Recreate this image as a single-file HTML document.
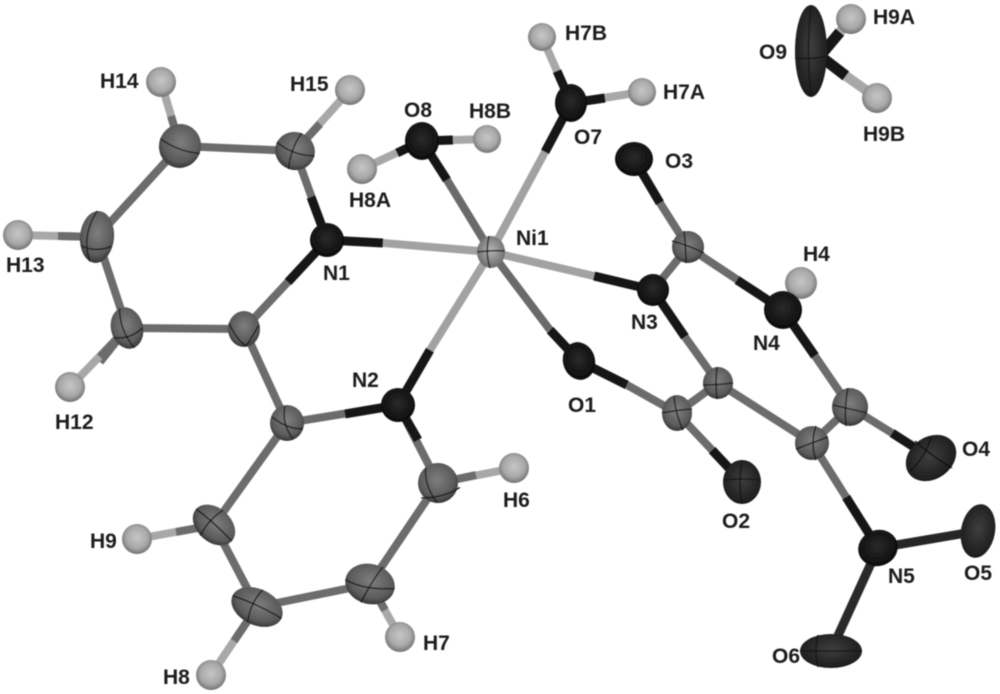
<!DOCTYPE html>
<html><head><meta charset="utf-8"><style>
html,body{margin:0;padding:0;background:#fff;width:1000px;height:694px;overflow:hidden}
svg{display:block}
text{font-family:"Liberation Sans",sans-serif;font-weight:bold;font-size:21px;fill:#1e1e1e}
.d{stroke:#141414;stroke-width:9}
.g{stroke:#6c6c6c;stroke-width:8}
.m{stroke:#6a6a6a;stroke-width:8}
.l{stroke:#a2a2a2;stroke-width:8}
.h{stroke:#a8a8a8;stroke-width:8}
.x path{stroke:#151515;stroke-width:1.3;fill:none}
</style></head><body>
<svg width="1000" height="694" viewBox="0 0 1000 694" xmlns="http://www.w3.org/2000/svg">
<defs>
<radialGradient id="H" cx="50%" cy="45%" r="55%"><stop offset="0" stop-color="#c6c6c6"/><stop offset=".65" stop-color="#a8a8a8"/><stop offset="1" stop-color="#727272"/></radialGradient>
<radialGradient id="C" cx="50%" cy="42%" r="58%"><stop offset="0" stop-color="#7e7e7e"/><stop offset=".75" stop-color="#5a5a5a"/><stop offset="1" stop-color="#363636"/></radialGradient>
<radialGradient id="K" cx="50%" cy="45%" r="55%"><stop offset="0" stop-color="#2a2a2a"/><stop offset="1" stop-color="#0c0c0c"/></radialGradient>
<radialGradient id="O" cx="50%" cy="45%" r="55%"><stop offset="0" stop-color="#3e3e3e"/><stop offset="1" stop-color="#1c1c1c"/></radialGradient>
<radialGradient id="N" cx="50%" cy="45%" r="55%"><stop offset="0" stop-color="#b4b4b4"/><stop offset="1" stop-color="#6c6c6c"/></radialGradient>
<filter id="s" x="-5%" y="-5%" width="110%" height="110%"><feGaussianBlur stdDeviation="0.45"/></filter>
</defs>
<rect width="1000" height="694" fill="#fff"/>
<g filter="url(#s)">

<!-- Ni bonds -->
<line class="l" x1="491" y1="252" x2="383" y2="243"/><line class="d" x1="383" y1="243" x2="327" y2="240"/>
<line class="m" x1="491" y1="252" x2="447" y2="180"/><line class="d" x1="447" y1="180" x2="422" y2="141"/>
<line class="l" x1="491" y1="252" x2="545" y2="152"/><line class="d" x1="545" y1="152" x2="571" y2="103"/>
<line class="l" x1="491" y1="252" x2="594" y2="276"/><line class="d" x1="594" y1="276" x2="653" y2="290"/>
<line class="l" x1="491" y1="252" x2="430" y2="350"/><line class="d" x1="430" y1="350" x2="398" y2="405"/>
<line class="m" x1="491" y1="252" x2="550" y2="330"/><line class="d" x1="550" y1="330" x2="579" y2="361"/>

<!-- ring 1 -->
<line class="g" x1="327" y1="240" x2="295" y2="151"/><line class="d" x1="327" y1="240" x2="311" y2="197"/>
<line class="g" x1="327" y1="240" x2="244" y2="329"/><line class="d" x1="327" y1="240" x2="288" y2="282"/>
<line class="g" x1="295" y1="151" x2="180" y2="146"/>
<line class="g" x1="180" y1="146" x2="97" y2="237"/>
<line class="g" x1="97" y1="237" x2="127" y2="328"/>
<line class="g" x1="127" y1="328" x2="244" y2="329"/>
<line class="g" x1="244" y1="329" x2="287" y2="423"/>
<line class="g" x1="127" y1="328" x2="100" y2="362"/>
<!-- ring 2 -->
<line class="g" x1="287" y1="423" x2="398" y2="405"/><line class="d" x1="345" y1="414" x2="398" y2="405"/>
<line class="g" x1="398" y1="405" x2="438" y2="483"/><line class="d" x1="398" y1="405" x2="418" y2="440"/>
<line class="g" x1="438" y1="483" x2="370" y2="584"/>
<line class="g" x1="370" y1="584" x2="257" y2="607"/>
<line class="g" x1="257" y1="607" x2="214" y2="525"/>
<line class="g" x1="214" y1="525" x2="287" y2="423"/>
<!-- right ring -->
<line class="g" x1="653" y1="290" x2="688" y2="247"/>
<line class="g" x1="688" y1="247" x2="783" y2="310"/><line class="d" x1="737" y1="280" x2="783" y2="310"/>
<line class="d" x1="653" y1="290" x2="685" y2="337"/><line class="g" x1="685" y1="337" x2="718" y2="383"/>
<line class="d" x1="783" y1="310" x2="815" y2="356"/><line class="g" x1="815" y1="356" x2="850" y2="407"/>
<line class="g" x1="850" y1="407" x2="812" y2="443"/>
<line class="g" x1="812" y1="443" x2="718" y2="383"/>
<line class="g" x1="718" y1="383" x2="677" y2="413"/>
<line class="g" x1="677" y1="413" x2="627" y2="385"/><line class="d" x1="627" y1="385" x2="579" y2="361"/>
<line class="g" x1="677" y1="413" x2="712" y2="450"/><line class="d" x1="712" y1="450" x2="742" y2="482"/>
<line class="g" x1="688" y1="247" x2="660" y2="203"/><line class="d" x1="660" y1="203" x2="634" y2="159"/>
<line class="g" x1="850" y1="407" x2="892" y2="433"/><line class="d" x1="892" y1="433" x2="931" y2="458"/>
<line class="g" x1="812" y1="443" x2="846" y2="497"/><line class="d" x1="846" y1="497" x2="878" y2="548"/>
<line class="d" x1="878" y1="548" x2="978" y2="531" style="stroke:#262626"/>
<line class="d" x1="878" y1="548" x2="831" y2="651" style="stroke:#2a2a2a"/>

<!-- H bonds -->
<line class="h" x1="295" y1="151" x2="350" y2="90"/><line class="g" x1="295" y1="151" x2="320" y2="124"/>
<line class="h" x1="180" y1="146" x2="161" y2="82"/><line class="g" x1="180" y1="146" x2="171" y2="116"/>
<line class="h" x1="97" y1="237" x2="18" y2="235"/><line class="g" x1="97" y1="237" x2="58" y2="236"/>
<line class="h" x1="127" y1="328" x2="70" y2="387"/><line class="g" x1="127" y1="328" x2="100" y2="357"/>
<line class="h" x1="214" y1="525" x2="137" y2="539"/><line class="g" x1="214" y1="525" x2="176" y2="532"/>
<line class="h" x1="257" y1="607" x2="211" y2="675"/><line class="g" x1="257" y1="607" x2="234" y2="641"/>
<line class="h" x1="370" y1="584" x2="400" y2="637"/><line class="g" x1="370" y1="584" x2="385" y2="610"/>
<line class="h" x1="438" y1="483" x2="514" y2="468"/><line class="g" x1="438" y1="483" x2="476" y2="475"/>
<line class="h" x1="422" y1="141" x2="362" y2="169"/><line class="d" x1="422" y1="141" x2="397" y2="153"/>
<line class="h" x1="422" y1="141" x2="487" y2="139"/><line class="d" x1="422" y1="141" x2="453" y2="140"/>
<line class="h" x1="571" y1="103" x2="542" y2="37"/><line class="d" x1="571" y1="103" x2="557" y2="71"/>
<line class="h" x1="571" y1="103" x2="642" y2="92"/><line class="d" x1="571" y1="103" x2="605" y2="98"/>
<line class="h" x1="783" y1="310" x2="801" y2="283"/>
<line class="d" x1="820" y1="56" x2="840" y2="32" style="stroke-width:11"/><line class="h" x1="840" y1="32" x2="851" y2="19" style="stroke-width:10"/>
<line class="d" x1="820" y1="56" x2="846" y2="76" style="stroke-width:11"/><line class="h" x1="846" y1="76" x2="877" y2="98" style="stroke-width:10"/>

<!-- H atoms -->
<g fill="url(#H)">
<circle cx="350" cy="90" r="15"/><circle cx="161" cy="82" r="15"/><circle cx="18" cy="235" r="15"/>
<circle cx="70" cy="387" r="15"/><circle cx="137" cy="539" r="15"/><circle cx="211" cy="675" r="15"/>
<circle cx="400" cy="637" r="15"/><circle cx="514" cy="468" r="15"/><circle cx="362" cy="169" r="15"/>
<circle cx="487" cy="139" r="14"/><circle cx="542" cy="37" r="14"/><circle cx="642" cy="92" r="14"/>
<circle cx="801" cy="283" r="16"/><circle cx="851" cy="19" r="15"/><circle cx="877" cy="98" r="15"/>
</g>

<!-- C atoms -->
<g class="x">
<g transform="translate(295 151) rotate(20)"><ellipse rx="20" ry="19" fill="url(#C)"/><path d="M-20 -2Q0 5 20 -2M0 -19Q-5 0 0 19"/></g>
<g transform="translate(180 146) rotate(15)"><ellipse rx="21" ry="22" fill="url(#C)"/><path d="M-21 -2Q0 6 21 2"/></g>
<g transform="translate(97 237) rotate(5)"><ellipse rx="17" ry="26" fill="url(#C)"/><path d="M-15 10Q0 16 15 8M-2 -26Q-16 0 -5 25"/></g>
<g transform="translate(127 328) rotate(-15)"><ellipse rx="16" ry="21" fill="url(#C)"/><path d="M-15 6Q0 12 15 4M-2 -21Q-8 0 2 21"/></g>
<g transform="translate(244 329)"><ellipse rx="16" ry="18" fill="url(#C)"/><path d="M-15 -6Q-8 10 2 17M15 -4Q8 8 2 17"/></g>
<g transform="translate(287 423)"><ellipse rx="17" ry="18" fill="url(#C)"/><path d="M-15 -6Q0 6 16 6M-2 -17Q-6 0 6 16"/></g>
<g transform="translate(214 525) rotate(42)"><ellipse rx="24" ry="17" fill="url(#C)"/><path d="M-24 0Q0 -2 24 0M-3 -17Q-8 0 -3 17"/></g>
<g transform="translate(257 607) rotate(25)"><ellipse rx="27" ry="18" fill="url(#C)"/><path d="M-27 0Q0 -3 27 0M-2 -18Q-8 0 -2 18"/></g>
<g transform="translate(370 584) rotate(15)"><ellipse rx="25" ry="20" fill="url(#C)"/><path d="M-25 2Q-5 8 25 -2M8 -20Q0 0 -4 20"/></g>
<g transform="translate(438 483) rotate(-15)"><ellipse rx="20" ry="20" fill="url(#C)"/><path d="M-20 10Q0 16 20 10M-8 -18Q-14 0 -6 18"/></g>
<g transform="translate(677 413)"><ellipse rx="15" ry="18" fill="url(#C)"/><path d="M-15 0Q0 -3 15 -4M-3 -17Q-2 0 6 17"/></g>
<g transform="translate(718 383)"><ellipse rx="15" ry="16" fill="url(#C)"/><path d="M-15 2Q0 2 15 0M-1 -16Q-3 0 -1 16"/></g>
<g transform="translate(812 443)"><ellipse rx="17" ry="17" fill="url(#C)"/><path d="M-16 6Q0 0 16 -6M4 -17Q-2 0 4 17"/></g>
<g transform="translate(850 407)"><ellipse rx="18" ry="19" fill="url(#C)"/><path d="M-17 -2Q0 2 17 6M-2 -19Q-6 0 -4 19"/></g>
<g transform="translate(688 247)"><ellipse rx="16" ry="16" fill="url(#C)"/><path d="M-16 -6Q0 -2 16 6M-4 -16Q-2 0 -2 16"/></g>
<g transform="translate(491 252)"><ellipse rx="14" ry="16" fill="url(#N)"/><path d="M-14 0Q0 -2 14 -1M-2 -16Q-6 0 -1 16"/></g>
</g>

<!-- N / O atoms -->
<g fill="url(#K)">
<circle cx="327" cy="240" r="17"/><circle cx="398" cy="405" r="17"/><circle cx="653" cy="290" r="16"/>
<circle cx="783" cy="310" r="19"/>
<ellipse cx="878" cy="548" rx="20" ry="18" transform="rotate(-20 878 548)"/>
<ellipse cx="571" cy="103" rx="16" ry="19"/>
<ellipse cx="422" cy="141" rx="17" ry="19"/>
<ellipse cx="579" cy="361" rx="16" ry="19" transform="rotate(-15 579 361)"/>
<ellipse cx="634" cy="159" rx="19" ry="17"/>
</g>
<g fill="url(#O)">
<ellipse cx="742" cy="482" rx="19" ry="22"/>
<ellipse cx="931" cy="458" rx="27" ry="21" transform="rotate(-35 931 458)"/>
<ellipse cx="978" cy="531" rx="17" ry="27" transform="rotate(10 978 531)"/>
<ellipse cx="831" cy="651" rx="31" ry="17"/>
<ellipse cx="811" cy="51" rx="16" ry="46"/>
</g>
<g class="x">
<path d="M724 480Q742 478 760 480M742 460Q738 482 742 504"/>
<path d="M909 472Q925 458 931 437M915 441Q930 455 952 468" style="stroke:#111"/>
<path d="M811 6Q806 50 811 96M795 58Q811 60 826 56"/>
<path d="M800 651H862M818 635Q814 651 818 667"/>
</g>

<!-- labels -->
<text x="100" y="88">H14</text>
<text x="290" y="91">H15</text>
<text x="6" y="272">H13</text>
<text x="55" y="429">H12</text>
<text x="90" y="548">H9</text>
<text x="163" y="684">H8</text>
<text x="423" y="650">H7</text>
<text x="503" y="507">H6</text>
<text x="349" y="207">H8A</text>
<text x="469" y="118">H8B</text>
<text x="565" y="40">H7B</text>
<text x="663" y="99">H7A</text>
<text x="873" y="24">H9A</text>
<text x="863" y="141">H9B</text>
<text x="803" y="261">H4</text>
<text x="404" y="117">O8</text>
<text x="574" y="144">O7</text>
<text x="665" y="168">O3</text>
<text x="759" y="59">O9</text>
<text x="516" y="245">Ni1</text>
<text x="323" y="280">N1</text>
<text x="352" y="387">N2</text>
<text x="631" y="329">N3</text>
<text x="753" y="350">N4</text>
<text x="888" y="583">N5</text>
<text x="568" y="412">O1</text>
<text x="722" y="528">O2</text>
<text x="962" y="456">O4</text>
<text x="964" y="580">O5</text>
<text x="772" y="663">O6</text>
</g>
</svg>
</body></html>
